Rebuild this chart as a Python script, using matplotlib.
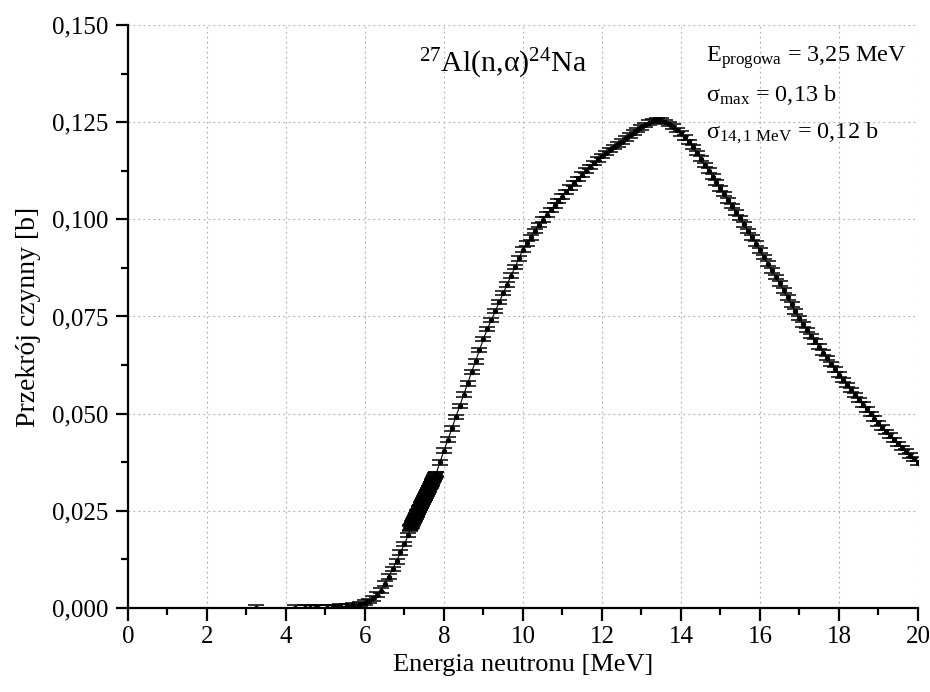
import matplotlib
matplotlib.use("Agg")
import matplotlib.pyplot as plt
from matplotlib.ticker import MultipleLocator, FuncFormatter

plt.rcParams['font.family'] = ['Liberation Serif', 'DejaVu Serif']
plt.rcParams['mathtext.fontset'] = 'custom'
plt.rcParams['mathtext.rm'] = 'Liberation Serif'
plt.rcParams['mathtext.it'] = 'Liberation Serif:italic'

# Energy [MeV] and cross-section [b]
energy_low = [3.24, 4.23, 4.48, 4.61, 4.73, 4.81, 5.03, 5.16, 5.24, 5.37, 5.54, 5.70, 5.87,
              6.0, 6.1, 6.2, 6.3, 6.4, 6.5, 6.6, 6.7, 6.8, 6.9, 7.0, 7.1]
sigma_low = [0.0001, 0.0001, 0.0001, 0.0001, 0.0001, 0.0001, 0.0001, 0.0001, 0.0002, 0.0003,
             0.0005, 0.0008, 0.0010,
             0.0014, 0.0018, 0.0025, 0.0034, 0.0045, 0.0063, 0.0081, 0.0100, 0.0120, 0.0143,
             0.0165, 0.0188]

energy_dense = [7.14, 7.15, 7.16, 7.17, 7.18, 7.19, 7.20, 7.21, 7.22, 7.23, 7.24, 7.25, 7.26,
                7.27, 7.28, 7.29, 7.30, 7.31, 7.32, 7.33, 7.34, 7.35, 7.36, 7.37, 7.38, 7.39,
                7.40, 7.41, 7.42, 7.43, 7.44, 7.45, 7.46, 7.47, 7.48, 7.49, 7.50, 7.51, 7.52,
                7.53, 7.54, 7.55, 7.56, 7.57, 7.58, 7.59, 7.60, 7.61, 7.62, 7.63, 7.64, 7.65,
                7.66, 7.67, 7.68, 7.69, 7.70, 7.71, 7.72, 7.73, 7.74, 7.75, 7.76, 7.77, 7.78,
                7.79, 7.80]
sigma_dense = [0.0205, 0.0207, 0.0209, 0.0211, 0.0213, 0.0216, 0.0218, 0.0220, 0.0222, 0.0224,
               0.0226, 0.0228, 0.0230, 0.0232, 0.0235, 0.0237, 0.0239, 0.0241, 0.0243, 0.0245,
               0.0247, 0.0249, 0.0252, 0.0254, 0.0256, 0.0258, 0.0260, 0.0262, 0.0264, 0.0266,
               0.0268, 0.0271, 0.0273, 0.0275, 0.0277, 0.0279, 0.0281, 0.0283, 0.0285, 0.0287,
               0.0290, 0.0292, 0.0294, 0.0296, 0.0298, 0.0300, 0.0302, 0.0304, 0.0307, 0.0309,
               0.0311, 0.0313, 0.0315, 0.0317, 0.0319, 0.0321, 0.0324, 0.0326, 0.0328, 0.0330,
               0.0332, 0.0334, 0.0336, 0.0338, 0.0341, 0.0343, 0.0345]

energy_high = [7.9, 8.0, 8.1, 8.2, 8.3, 8.4, 8.5, 8.6, 8.7, 8.8, 8.9, 9.0, 9.1, 9.2, 9.3, 9.4,
               9.5, 9.6, 9.7, 9.8, 9.9, 10.0, 10.1, 10.2, 10.3, 10.4, 10.5, 10.6, 10.7, 10.8,
               10.9, 11.0, 11.1, 11.2, 11.3, 11.4, 11.5, 11.6, 11.7, 11.8, 11.9, 12.0, 12.1,
               12.2, 12.3, 12.4, 12.5, 12.6, 12.7, 12.8, 12.9, 13.0, 13.1, 13.2, 13.3, 13.4,
               13.5, 13.6, 13.7, 13.8, 13.9, 14.0, 14.1, 14.2, 14.3, 14.4, 14.5, 14.6, 14.7,
               14.8, 14.9, 15.0, 15.1, 15.2, 15.3, 15.4, 15.5, 15.6, 15.7, 15.8, 15.9, 16.0,
               16.1, 16.2, 16.3, 16.4, 16.5, 16.6, 16.7, 16.8, 16.9, 17.0, 17.1, 17.2, 17.3,
               17.4, 17.5, 17.6, 17.7, 17.8, 17.9, 18.0, 18.1, 18.2, 18.3, 18.4, 18.5, 18.6,
               18.7, 18.8, 18.9, 19.0, 19.1, 19.2, 19.3, 19.4, 19.5, 19.6, 19.7, 19.8, 19.9, 20.0]
sigma_high = [0.0375, 0.0405, 0.0433, 0.0462, 0.0491, 0.0520, 0.0549, 0.0578, 0.0607, 0.0635,
              0.0664, 0.0692, 0.0718, 0.0741, 0.0764, 0.0787,
              0.0810, 0.0832, 0.0855, 0.0877, 0.0900, 0.0922, 0.0938, 0.0954, 0.0970, 0.0985,
              0.0999, 0.1012, 0.1024, 0.1036, 0.1047, 0.1058, 0.1070, 0.1082, 0.1093, 0.1104,
              0.1115, 0.1125, 0.1135, 0.1145, 0.1154, 0.1163, 0.1171, 0.1178, 0.1186, 0.1193,
              0.1200, 0.1208, 0.1216, 0.1223, 0.1230, 0.1237, 0.1243, 0.1249, 0.1253, 0.1255,
              0.1254, 0.1250, 0.1245, 0.1238, 0.1230, 0.1221, 0.1211, 0.1199, 0.1186, 0.1171,
              0.1156, 0.1140, 0.1125, 0.1110, 0.1095, 0.1080, 0.1065, 0.1049, 0.1034, 0.1018,
              0.1003, 0.0987, 0.0970, 0.0954, 0.0937, 0.0920, 0.0903, 0.0886, 0.0869, 0.0852,
              0.0835, 0.0817, 0.0799, 0.0781, 0.0763, 0.0746, 0.0730, 0.0715, 0.0700, 0.0686,
              0.0672, 0.0657, 0.0643, 0.0628, 0.0614, 0.0600, 0.0587, 0.0574, 0.0561, 0.0548,
              0.0535, 0.0523, 0.0511, 0.0499, 0.0487, 0.0475, 0.0464, 0.0453, 0.0443, 0.0432,
              0.0422, 0.0412, 0.0402, 0.0392, 0.0383, 0.0373]

sigma_err = 0.0006

energy = energy_low + energy_dense + energy_high
sigma = sigma_low + sigma_dense + sigma_high

x_ticks = [0, 2, 4, 6, 8, 10, 12, 14, 16, 18, 20]
y_ticks = [0.000, 0.025, 0.050, 0.075, 0.100, 0.125, 0.150]

fig = plt.figure(figsize=(9.30, 6.92), dpi=100)
ax = fig.add_axes([0.1376, 0.1214, 0.8494, 0.8425])

ax.errorbar(energy, sigma, yerr=sigma_err, fmt='o', color='black', ms=2.8,
            elinewidth=1.0, ecolor='black', capsize=5.5, capthick=1.1, zorder=3)
ax.plot(energy, sigma, color='black', lw=0.8, zorder=3)

ax.set_xlim(0, 20)
ax.set_ylim(0, 0.150)
ax.set_xticks(x_ticks)
ax.set_yticks(y_ticks)
ax.xaxis.set_minor_locator(MultipleLocator(1))
ax.yaxis.set_minor_locator(MultipleLocator(0.0125))
ax.yaxis.set_major_formatter(FuncFormatter(lambda v, p: f"{v:.3f}".replace('.', ',')))
ax.xaxis.set_major_formatter(FuncFormatter(lambda v, p: f"{v:.0f}"))

for side in ['top', 'right']:
    ax.spines[side].set_visible(False)
for side in ['left', 'bottom']:
    ax.spines[side].set_linewidth(1.6)
ax.tick_params(which='major', direction='out', length=9, width=1.6, labelsize=18, pad=4)
ax.tick_params(axis='y', which='major', pad=5)
ax.tick_params(which='minor', direction='out', length=5, width=1.6)

ax.grid(True, which='major', linestyle=(0, (1.5, 3)), color='#aaaaaa', lw=0.8)
ax.set_axisbelow(True)

ax.set_xlabel('Energia neutronu [MeV]', fontsize=19, labelpad=4)
ax.set_ylabel('Przekrój czynny [b]', fontsize=20, labelpad=8)

ax.text(0.475, 0.962, r'$\mathregular{^{27}}$Al(n,α)$\mathregular{^{24}}$Na', transform=ax.transAxes,
        fontsize=21.5, ha='center', va='top')
ax.text(0.732, 0.967, r'E$_{\mathregular{progowa}}$ = 3,25 MeV', transform=ax.transAxes,
        fontsize=17.5, ha='left', va='top')
ax.text(0.732, 0.900, r'σ$_{\mathregular{max}}$ = 0,13 b', transform=ax.transAxes,
        fontsize=17.5, ha='left', va='top')
ax.text(0.732, 0.836, r'σ$_{\mathregular{14,1\ MeV}}$ = 0,12 b', transform=ax.transAxes,
        fontsize=17.5, ha='left', va='top')

fig.savefig('out.png', dpi=100)
